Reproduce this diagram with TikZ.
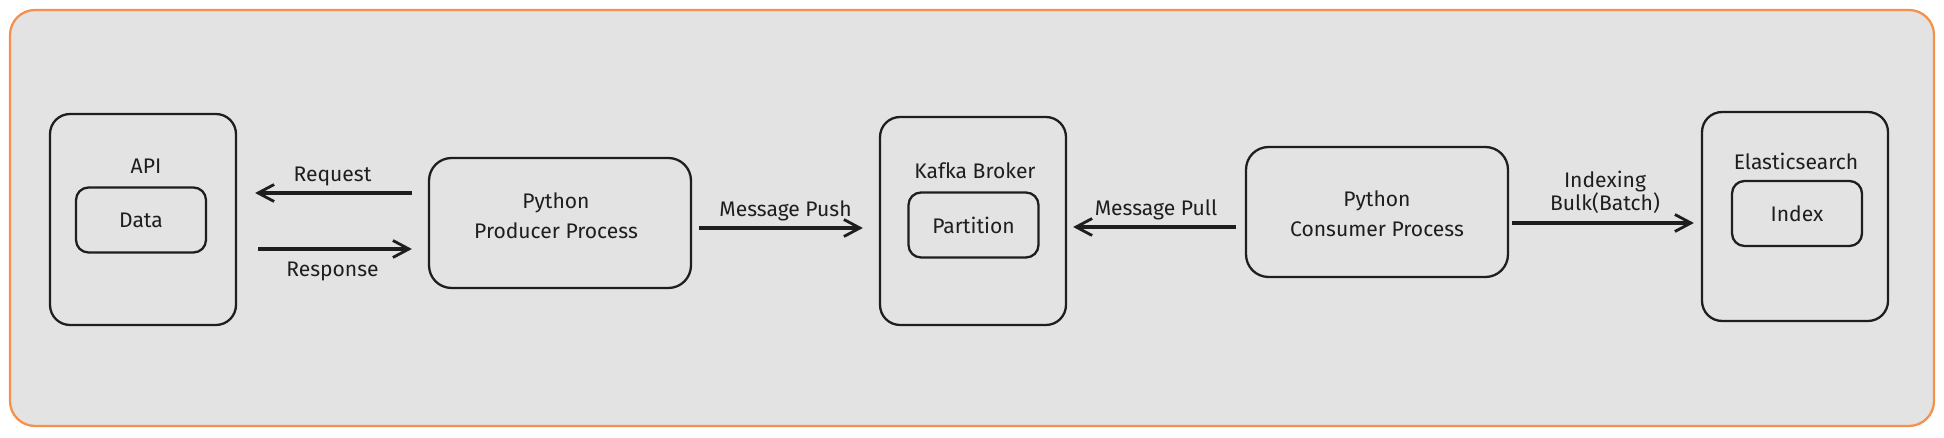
\documentclass[tikz,border=0pt]{standalone}
\usepackage{fontspec}
\setmainfont{Fira Sans}
\usepackage{tikz}
\usetikzlibrary{arrows.meta,positioning,calc}
\definecolor{canvas}{HTML}{E3E3E3}
\definecolor{frameorange}{HTML}{F5914A}
\definecolor{ink}{HTML}{1E1E1E}
\begin{document}
\begin{tikzpicture}[x=0.02cm,y=-0.02cm,
  every node/.style={font=\fontsize{12}{17}\selectfont,text=ink},
  outerbox/.style={draw=ink,line width=1.3pt,rounded corners=0.4cm,inner sep=0pt,minimum width=3.72cm},
  innerbox/.style={draw=ink,line width=1.3pt,rounded corners=0.25cm,inner sep=0pt,minimum width=2.6cm,minimum height=1.3cm},
  procbox/.style={draw=ink,line width=1.3pt,rounded corners=0.45cm,inner sep=0pt,align=center,minimum width=5.24cm,minimum height=2.6cm},
  arr/.style={draw=ink,line width=1.8pt,-{Straight Barb[length=3.2mm,width=3.4mm,line width=1.6pt]}}]
  \useasboundingbox (0,0) rectangle (1944,438);
  \draw[frameorange,fill=canvas,line width=1.3pt,rounded corners=0.5cm] (10,10) rectangle (1934,426);
  % API side
  \node[outerbox,minimum height=4.22cm] (api) at (143,219.5) {};
  \node (apititle) at (146,166) {API};
  \node[innerbox] (data) at (141,220) {Data};
  % producer and broker
  \node[procbox] (producer) at (560,223) {};
  \node[align=center] (producertext) at (556,216) {Python\\Producer Process};
  \node[outerbox,minimum height=4.16cm] (kafka) at (973,221) {};
  \node (kafkatitle) at (975,171) {Kafka Broker};
  \node[innerbox] (partition) at (973.5,225) {Partition};
  % consumer and elasticsearch
  \node[procbox] (consumer) at (1377,212) {};
  \node[align=center] (consumertext) at (1377,214) {Python\\Consumer Process};
  \node[outerbox,minimum height=4.18cm] (elastic) at (1795,216.5) {};
  \node (elastictitle) at (1796,161) {Elasticsearch};
  \node[innerbox] (index) at (1797,213.5) {Index};
  % connectors
  \draw[arr,shorten <=0.32cm,shorten >=0.36cm] ([yshift=0.6cm]producer.west) -- ([yshift=0.6cm]producer.west -| api.east)
    node[midway,above=0pt] (request) {Request};
  \draw[arr,shorten <=0.42cm,shorten >=0.32cm] ([yshift=-0.52cm]producer.west -| api.east) -- ([yshift=-0.52cm]producer.west)
    node[midway,below=3pt] (response) {Response};
  \draw[arr,shorten <=0.14cm,shorten >=0.32cm] ([yshift=-0.1cm]producer.east) -- ([yshift=-0.1cm]producer.east -| kafka.west)
    node[midway,above=0pt] (push) {Message Push};
  \draw[arr,shorten <=0.18cm,shorten >=0.12cm] ([yshift=-0.3cm]consumer.west) -- ([yshift=-0.3cm]consumer.west -| kafka.east)
    node[midway,above=0pt] (pull) {Message Pull};
  \draw[arr,shorten <=0.06cm,shorten >=0.14cm] ([yshift=-0.22cm]consumer.east) -- ([yshift=-0.22cm]consumer.east -| elastic.west)
    node[midway,above=1pt,align=center,font=\fontsize{12}{13.5}\selectfont] (bulk) {Indexing\\Bulk(Batch)};
\end{tikzpicture}
\end{document}
